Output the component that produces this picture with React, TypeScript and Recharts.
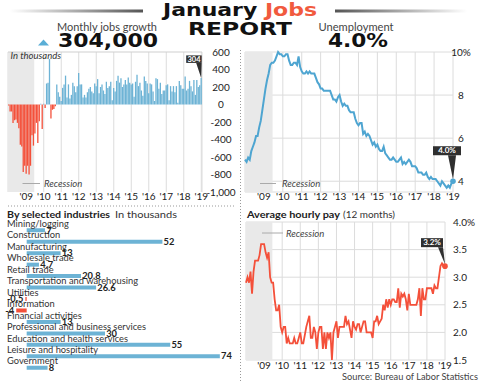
import React from 'react';
import {
  BarChart, Bar, LineChart, Line, XAxis, YAxis, CartesianGrid,
  ReferenceArea, ReferenceLine, Cell, LabelList,
} from 'recharts';

const FONT = 'Lato, "Noto Sans", sans-serif';
const HEAVY = '"DejaVu Sans", Lato, sans-serif';
const BLUE = '#6db3d5';
const LINE_BLUE = '#4ea5d1';
const RED = '#f4503a';
const GRID = '#dcdcdc';
const SHADE = '#e9e9e9';
const BOX = '#2f2f2f';

// months Jan 2008 .. Jan 2019
const months = Array.from({ length: 133 }, (_, i) =>
  `${2008 + Math.floor(i / 12)}-${String((i % 12) + 1).padStart(2, '0')}`);

// nonfarm payroll change, thousands
const jobsGrowth = [
  -10, -80, -80, -210, -180, -170, -210, -270, -460, -480, -770, -700,
  -790, -700, -800, -700, -350, -470, -330, -210, -440, -190, 10, -280,
  10, -40, 240, 250, 520, -160, -60, -50, -20, 230, 140, 90,
  40, 190, 230, 330, 80, 230, 70, 110, 250, 210, 140, 210,
  360, 230, 230, 80, 110, 80, 140, 180, 200, 150, 130, 240,
  210, 290, 130, 200, 230, 160, 120, 260, 190, 210, 260, 50,
  190, 150, 270, 330, 250, 300, 200, 230, 280, 230, 310, 250,
  230, 240, 90, 260, 340, 210, 250, 160, 100, 320, 270, 240,
  130, 240, 230, 150, 40, 300, 290, 180, 250, 120, 160, 160,
  220, 230, 50, 210, 150, 210, 140, 210, 20, 270, 220, 180,
  180, 320, 160, 180, 270, 210, 150, 280, 110, 280, 200, 220,
  304,
];

// unemployment rate, %
const unemploymentRate = [
  5.0, 4.9, 5.1, 5.0, 5.4, 5.6, 5.8, 6.1, 6.1, 6.5, 6.8, 7.3,
  7.8, 8.3, 8.7, 9.0, 9.4, 9.5, 9.5, 9.6, 9.8, 10.0, 9.9, 9.9,
  9.8, 9.8, 9.9, 9.9, 9.6, 9.4, 9.4, 9.5, 9.5, 9.4, 9.8, 9.3,
  9.1, 9.0, 9.0, 9.1, 9.0, 9.1, 9.0, 9.0, 9.0, 8.8, 8.6, 8.5,
  8.3, 8.3, 8.2, 8.2, 8.2, 8.2, 8.2, 8.0, 7.8, 7.8, 7.7, 7.9,
  8.0, 7.7, 7.5, 7.6, 7.5, 7.5, 7.3, 7.2, 7.2, 7.2, 6.9, 6.7,
  6.6, 6.7, 6.7, 6.2, 6.3, 6.1, 6.2, 6.1, 5.9, 5.7, 5.8, 5.6,
  5.7, 5.5, 5.4, 5.4, 5.6, 5.3, 5.2, 5.1, 5.0, 5.0, 5.1, 5.0,
  4.9, 4.9, 5.0, 5.1, 4.8, 4.9, 4.8, 4.9, 5.0, 4.9, 4.7, 4.7,
  4.7, 4.6, 4.4, 4.4, 4.4, 4.3, 4.3, 4.4, 4.2, 4.1, 4.2, 4.1,
  4.1, 4.1, 4.0, 3.9, 3.8, 4.0, 3.9, 3.8, 3.7, 3.8, 3.7, 3.9,
  4.0,
];

// average hourly pay, 12-month change, %
const hourlyPayGrowth = [
  2.9, 3.0, 2.9, 3.1, 2.7, 3.1, 3.3, 3.3, 3.3, 3.4, 3.6, 3.6,
  3.6, 3.45, 3.35, 3.45, 3.0, 2.9, 2.9, 2.6, 2.4, 2.4, 2.5, 2.1,
  2.0, 2.1, 2.1, 1.8, 1.9, 1.8, 1.8, 1.8, 1.9, 1.8, 1.8, 1.9,
  2.0, 1.8, 1.8, 1.95, 2.1, 2.2, 2.3, 1.9, 1.9, 2.1, 2.0, 1.7,
  2.0, 2.1, 2.1, 1.7, 2.0, 1.7, 2.0, 1.9, 2.0, 1.5, 2.0, 2.1,
  2.2, 1.9, 2.1, 2.1, 2.1, 2.1, 2.3, 2.15, 2.2, 2.05, 1.9, 2.2,
  2.1, 2.05, 2.15, 2.15, 2.0, 2.1, 2.2, 2.2, 2.0, 2.0, 2.0, 2.0,
  1.9, 2.2, 2.2, 2.3, 2.15, 2.2, 2.25, 2.5, 2.4, 2.6, 2.45, 2.6,
  2.5, 2.6, 2.6, 2.55, 2.55, 2.8, 2.45, 2.7, 2.65, 2.7, 2.6, 2.4,
  2.7, 2.5, 2.5, 2.5, 2.5, 2.5, 2.6, 2.8, 2.3, 2.8, 2.6, 2.6,
  2.8, 2.8, 2.8, 2.8, 2.7, 2.85, 2.8, 2.8, 3.0, 3.2, 3.25, 3.2,
  3.2,
];

const jobsTicks = [-1000, -800, -600, -400, -200, 0, 200, 400, 600];
const rateTicks = [4, 6, 8, 10];
const payTicks = [1.5, 2, 2.5, 3, 3.5, 4];

const industries = [
  'Mining/logging', 'Construction', 'Manufacturing', 'Wholesale trade', 'Retail trade',
  'Transportation and warehousing', 'Utilities', 'Information', 'Financial activities',
  'Professional and business services', 'Education and health services',
  'Leisure and hospitality', 'Government',
];
const industryChange = [7, 52, 13, 4.7, 20.8, 26.6, -0.5, -4, 13, 30, 55, 74, 8];

const LAST = months.length - 1;
const yearTicks = months.filter((m) => m.endsWith('-01'));
const yearIdx = months.map((m, i) => (m.endsWith('-01') ? i : -1)).filter((i) => i >= 0);
const yearLabel = (m: string) => (m.startsWith('2008') ? '' : `'${m.slice(2, 4)}`);

const jobsData = months.map((month, i) => ({
  month,
  value: jobsGrowth[i],
  callout: i === LAST ? String(jobsGrowth[i]) : undefined,
}));
const rateData = unemploymentRate.map((value, m) => ({ m, value }));
const payData = hourlyPayGrowth.map((value, m) => ({ m, value }));
const industryData = industries.map((name, i) => ({ name, value: industryChange[i] }));

const xTick = { fontSize: 10, fill: '#222', fontFamily: FONT };

function SideTick(props: any) {
  const { x, y, payload, anchor = 'start', shift = 0, fmt } = props;
  return (
    <text x={x + shift} y={y} dy={3.5} textAnchor={anchor} fontSize={10} fill="#222" fontFamily={FONT}>
      {fmt ? fmt(payload.value) : payload.value}
    </text>
  );
}

function JobsCallout(props: any) {
  const { value } = props;
  if (value == null || value === '') return null;
  const vb = props.viewBox ?? props;
  const px = vb.x + vb.width / 2;
  const py = Math.min(vb.y, vb.y + vb.height);
  const b = py - 15;
  return (
    <g>
      <polygon points={`${px - 5},${b} ${px + 0.5},${b} ${px},${py}`} fill={BOX} />
      <rect x={px - 15} y={b - 7.5} width={15.5} height={7.5} fill={BOX} />
      <text x={px - 7.2} y={b - 1.4} textAnchor="middle" fontSize={7.5} fontWeight={700} fill="#fff" fontFamily={FONT}>
        {value}
      </text>
    </g>
  );
}

function RateDot(props: any) {
  const { cx, cy, payload } = props;
  if (!payload || payload.m !== LAST) return null;
  const b = cy - 26;
  return (
    <g>
      <polygon points={`${cx - 5},${b} ${cx + 3},${b} ${cx},${cy - 2}`} fill={BOX} />
      <rect x={cx - 20} y={b - 9} width={28} height={9} fill={BOX} />
      <text x={cx - 6} y={b - 2} textAnchor="middle" fontSize={8} fontWeight={700} fill="#fff" fontFamily={FONT}>
        {payload.value.toFixed(1)}%
      </text>
      <circle cx={cx} cy={cy} r={2.8} fill={LINE_BLUE} />
    </g>
  );
}

function PayDot(props: any) {
  const { cx, cy, payload } = props;
  if (!payload || payload.m !== LAST) return null;
  const b = cy - 19;
  return (
    <g>
      <polygon points={`${cx - 7},${b} ${cx - 2},${b} ${cx},${cy - 2}`} fill={BOX} />
      <rect x={cx - 24} y={b - 9} width={22} height={9} fill={BOX} />
      <text x={cx - 13} y={b - 2} textAnchor="middle" fontSize={8} fontWeight={700} fill="#fff" fontFamily={FONT}>
        {payload.value.toFixed(1)}%
      </text>
      <circle cx={cx} cy={cy} r={2.8} fill={RED} />
    </g>
  );
}

function IndustryName(props: any) {
  const vb = props.viewBox ?? props;
  const top = Math.min(vb.y, vb.y + vb.height);
  return (
    <text x={7} y={top - 1.3} fontSize={9.3} fill="#333" fontFamily={FONT}>{props.value}</text>
  );
}

function IndustryValue(props: any) {
  const vb = props.viewBox ?? props;
  const { value } = props;
  const top = Math.min(vb.y, vb.y + vb.height);
  const h = Math.abs(vb.height);
  const left = Math.min(vb.x, vb.x + vb.width);
  const right = Math.max(vb.x, vb.x + vb.width);
  const neg = value < 0;
  return (
    <text
      x={neg ? left - 2 : right + 1.2}
      y={top + h / 2 + 3.2}
      textAnchor={neg ? 'end' : 'start'}
      fontSize={9.3}
      fontWeight={700}
      fill="#222"
      fontFamily={FONT}
    >
      {value}
    </text>
  );
}

function JobsChart() {
  return (
    <BarChart width={245} height={170} data={jobsData} margin={{ top: 12, right: 7, left: 8, bottom: 4 }}>
      <ReferenceArea x1="2008-01" x2="2009-06" fill={SHADE} fillOpacity={1} stroke="none" />
      <CartesianGrid horizontal={false} stroke={GRID} />
      <ReferenceLine y={600} stroke="#cfcfcf" />
      <XAxis
        dataKey="month" ticks={yearTicks} interval={0} tickFormatter={yearLabel}
        axisLine={false} tickLine={false} tickSize={1} tickMargin={0} height={14} tick={xTick}
      />
      <YAxis
        orientation="right" domain={[-1000, 600]} ticks={jobsTicks} interval={0} width={36}
        axisLine={false} tickLine={false}
        tick={<SideTick anchor="middle" shift={11} fmt={(v: number) => v.toLocaleString('en-US')} />}
      />
      <Bar dataKey="value" barSize={1.3} isAnimationActive={false}>
        {jobsData.map((d) => <Cell key={d.month} fill={d.value < 0 ? RED : BLUE} />)}
        <LabelList dataKey="callout" content={<JobsCallout />} />
      </Bar>
    </BarChart>
  );
}

function RateChart() {
  return (
    <LineChart width={241} height={170} data={rateData} margin={{ top: 12, right: 2, left: 5, bottom: 4 }}>
      <ReferenceArea x1={0} x2={17.5} fill={SHADE} fillOpacity={1} stroke="none" />
      <CartesianGrid stroke={GRID} />
      <XAxis
        type="number" dataKey="m" domain={[0, LAST]} ticks={yearIdx} interval={0}
        tickFormatter={(m: number) => yearLabel(months[m])}
        axisLine={false} tickLine={false} tickSize={1} tickMargin={0} height={14} tick={xTick}
      />
      <YAxis
        orientation="right" domain={[3.5, 10]} ticks={rateTicks} interval={0} width={26}
        axisLine={false} tickLine={false}
        tick={<SideTick anchor="middle" fmt={(v: number) => (v === 10 ? '10%' : String(v))} />}
      />
      <Line dataKey="value" stroke={LINE_BLUE} strokeWidth={2} dot={<RateDot />} activeDot={false} isAnimationActive={false} />
    </LineChart>
  );
}

function PayChart() {
  return (
    <LineChart width={241} height={165} data={payData} margin={{ top: 12, right: 2, left: 6, bottom: 2 }}>
      <ReferenceArea x1={0} x2={17.5} fill={SHADE} fillOpacity={1} stroke="none" />
      <CartesianGrid stroke={GRID} />
      <XAxis
        type="number" dataKey="m" domain={[0, LAST]} ticks={yearIdx} interval={0}
        tickFormatter={(m: number) => yearLabel(months[m])}
        axisLine={false} tickLine={false} tickSize={1} tickMargin={0.5} height={13} tick={xTick}
      />
      <YAxis
        orientation="right" domain={[1.5, 4]} ticks={payTicks} interval={0} width={34}
        axisLine={false} tickLine={false}
        tick={<SideTick fmt={(v: number) => (v === 4 ? '4.0%' : v.toFixed(1))} />}
      />
      <Line dataKey="value" stroke={RED} strokeWidth={1.8} dot={<PayDot />} activeDot={false} isAnimationActive={false} />
    </LineChart>
  );
}

function IndustryChart() {
  return (
    <BarChart
      layout="vertical" width={240} height={160} data={industryData}
      margin={{ top: 6.3, right: 4.5, left: 5.8, bottom: 4.8 }}
    >
      <XAxis type="number" domain={[-8, 80]} hide />
      <YAxis type="category" dataKey="name" hide />
      <Bar dataKey="value" barSize={4} isAnimationActive={false}>
        {industryData.map((d) => <Cell key={d.name} fill={d.value < 0 ? RED : BLUE} />)}
        <LabelList dataKey="name" content={<IndustryName />} />
        <LabelList dataKey="value" content={<IndustryValue />} />
      </Bar>
    </BarChart>
  );
}

function Overlay() {
  return (
    <svg width={481} height={383} style={{ position: 'absolute', left: 0, top: 0, pointerEvents: 'none' }}>
      <defs>
        <linearGradient id="fadeL" x1="0" x2="1" y1="0" y2="0">
          <stop offset="0" stopColor="#fff" />
          <stop offset="1" stopColor="#555" />
        </linearGradient>
        <linearGradient id="fadeR" x1="0" x2="1" y1="0" y2="0">
          <stop offset="0" stopColor="#555" />
          <stop offset="1" stopColor="#fff" />
        </linearGradient>
      </defs>
      <rect x={10} y={9.5} width={133} height={3} fill="url(#fadeL)" />
      <rect x={335} y={9.5} width={132} height={3} fill="url(#fadeR)" />
      <text x={163} y={16} fontFamily={HEAVY} fontWeight={700} fontSize={18} textLength={154} lengthAdjust="spacingAndGlyphs" fill="#111">
        January <tspan fill="#f15a3e">Jobs</tspan>
      </text>
      <text x={188} y={35} fontFamily={HEAVY} fontWeight={700} fontSize={18.3} textLength={104} lengthAdjust="spacingAndGlyphs" fill="#111">
        REPORT
      </text>

      <text x={57} y={30.5} fontFamily={FONT} fontSize={11} textLength={100} lengthAdjust="spacingAndGlyphs" fill="#444">Monthly jobs growth</text>
      <polygon points="38,45.5 49,45.5 43.5,39.5" fill="#5aaed6" />
      <text x={58} y={47} fontFamily={HEAVY} fontWeight={700} fontSize={20} textLength={100} lengthAdjust="spacingAndGlyphs" fill="#111">304,000</text>
      <text x={318.5} y={30.5} fontFamily={FONT} fontSize={11} textLength={75} lengthAdjust="spacingAndGlyphs" fill="#444">Unemployment</text>
      <text x={328} y={47} fontFamily={HEAVY} fontWeight={700} fontSize={20} textLength={60} lengthAdjust="spacingAndGlyphs" fill="#111">4.0%</text>

      <line x1={240.5} y1={50} x2={240.5} y2={383} stroke="#999" strokeDasharray="1,2" />
      <line x1={8} y1={206} x2={235} y2={206} stroke="#999" strokeDasharray="1,2" />

      <text x={10.5} y={59} fontFamily={FONT} fontStyle="italic" fontSize={9.5} fill="#333">In thousands</text>

      <line x1={22.5} y1={183.5} x2={40} y2={183.5} stroke="#aaa" />
      <text x={44} y={187} fontFamily={FONT} fontStyle="italic" fontSize={9.5} fill="#444">Recession</text>
      <line x1={260} y1={183.5} x2={276} y2={183.5} stroke="#aaa" />
      <text x={282} y={187} fontFamily={FONT} fontStyle="italic" fontSize={9.5} fill="#444">Recession</text>
      <line x1={262} y1={233} x2={283} y2={233} stroke="#aaa" />
      <text x={286} y={236.5} fontFamily={FONT} fontStyle="italic" fontSize={9.5} fill="#444">Recession</text>

      <text x={7} y={218} fontFamily={FONT} fontWeight={700} fontSize={10} textLength={103} lengthAdjust="spacingAndGlyphs" fill="#222">By selected industries</text>
      <text x={115} y={218} fontFamily={FONT} fontSize={10} textLength={62} lengthAdjust="spacingAndGlyphs" fill="#333">In thousands</text>
      <text x={247} y={217.5} fontFamily={FONT} fontWeight={700} fontSize={10} textLength={93} lengthAdjust="spacingAndGlyphs" fill="#222">Average hourly pay</text>
      <text x={343} y={217.5} fontFamily={FONT} fontSize={10} textLength={52} lengthAdjust="spacingAndGlyphs" fill="#333">(12 months)</text>

      <text x={342} y={380} fontFamily={FONT} fontSize={9} textLength={136} lengthAdjust="spacingAndGlyphs" fill="#444">Source: Bureau of Labor Statistics</text>
    </svg>
  );
}

export default function App() {
  return (
    <div style={{ position: 'absolute', left: 0, top: 0, width: 481, height: 383, background: '#fff', overflow: 'hidden', fontFamily: FONT }}>
      <div style={{ position: 'absolute', left: 0, top: 40 }}><JobsChart /></div>
      <div style={{ position: 'absolute', left: 240, top: 40 }}><RateChart /></div>
      <div style={{ position: 'absolute', left: 0, top: 218 }}><IndustryChart /></div>
      <div style={{ position: 'absolute', left: 240, top: 210 }}><PayChart /></div>
      <Overlay />
    </div>
  );
}
